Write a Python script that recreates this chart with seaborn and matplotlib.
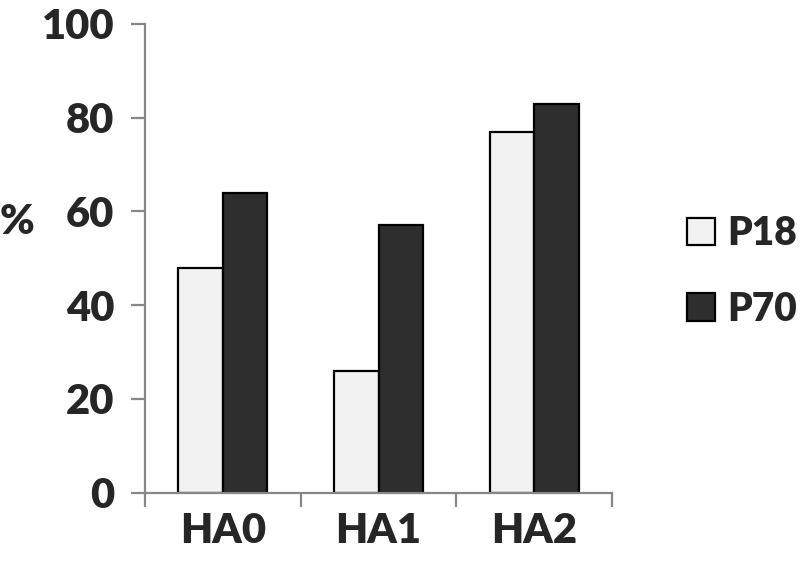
"""
Grouped bar chart: share of P18 vs P70 per HA class
"""

import numpy as np
import pandas as pd
import matplotlib
matplotlib.use('Agg')
import matplotlib.pyplot as plt
from matplotlib.patches import Patch
import seaborn as sns

# Data
categories = ['HA0', 'HA1', 'HA2']
p18_values = [48, 26, 77]
p70_values = [64, 57, 83]
series_names = ['P18', 'P70']
y_ticks = [0, 20, 40, 60, 80, 100]

colors = {'P18': '#f2f2f2', 'P70': '#2e2e2e'}
axis_grey = '#878787'
font = 'Lato'
weight = 'heavy'
fsize = 30

df = pd.DataFrame({
    'category': categories * 2,
    'series': ['P18'] * len(categories) + ['P70'] * len(categories),
    'value': p18_values + p70_values,
})

sns.set_style('white')
plt.rcParams['font.family'] = [font, 'DejaVu Sans']
plt.rcParams['font.weight'] = weight

fig = plt.figure(figsize=(8, 5.63), dpi=100)
ax = fig.add_axes([0.18125, 0.1252, 0.58375, 0.8322])

sns.barplot(data=df, x='category', y='value', hue='series',
            order=categories, hue_order=series_names, palette=colors,
            width=0.572, gap=0, edgecolor='black', linewidth=1.6,
            saturation=1, legend=False, ax=ax)

ax.set_xlim(-0.5, len(categories) - 0.5)
ax.set_ylim(0, 100)
ax.set_yticks(y_ticks)
ax.set_yticklabels([str(t) for t in y_ticks], fontsize=fsize, fontweight=weight)

# category labels centred, tick marks at the group boundaries
ax.set_xticks(range(len(categories)))
ax.set_xticklabels(categories, fontsize=fsize, fontweight=weight)
ax.set_xticks(np.arange(-0.5, len(categories)), minor=True)
ax.tick_params(axis='x', which='major', bottom=True, length=0, pad=14)
ax.tick_params(axis='x', which='minor', bottom=True, length=10, width=1.6,
               color=axis_grey, direction='out')
ax.tick_params(axis='y', left=True, length=10, width=1.6, color=axis_grey,
               direction='out', pad=12)

ax.set_xlabel('')
ax.set_ylabel('%', rotation=0, fontsize=fsize, fontweight=weight, va='center')
ax.yaxis.set_label_coords(-0.275, 0.577)

for side in ['top', 'right']:
    ax.spines[side].set_visible(False)
for side in ['left', 'bottom']:
    ax.spines[side].set_color(axis_grey)
    ax.spines[side].set_linewidth(1.6)

handles = [Patch(facecolor=colors[s], edgecolor='black', linewidth=1.6)
           for s in series_names]
fig.legend(handles, series_names, loc='center left',
           bbox_to_anchor=(0.835, 0.5178), frameon=False, borderpad=0,
           handlelength=0.72, handleheight=0.72, handletextpad=0.3,
           labelspacing=1.0, prop={'family': font, 'weight': weight, 'size': 28})

fig.savefig('out.png', dpi=100)
plt.close(fig)
